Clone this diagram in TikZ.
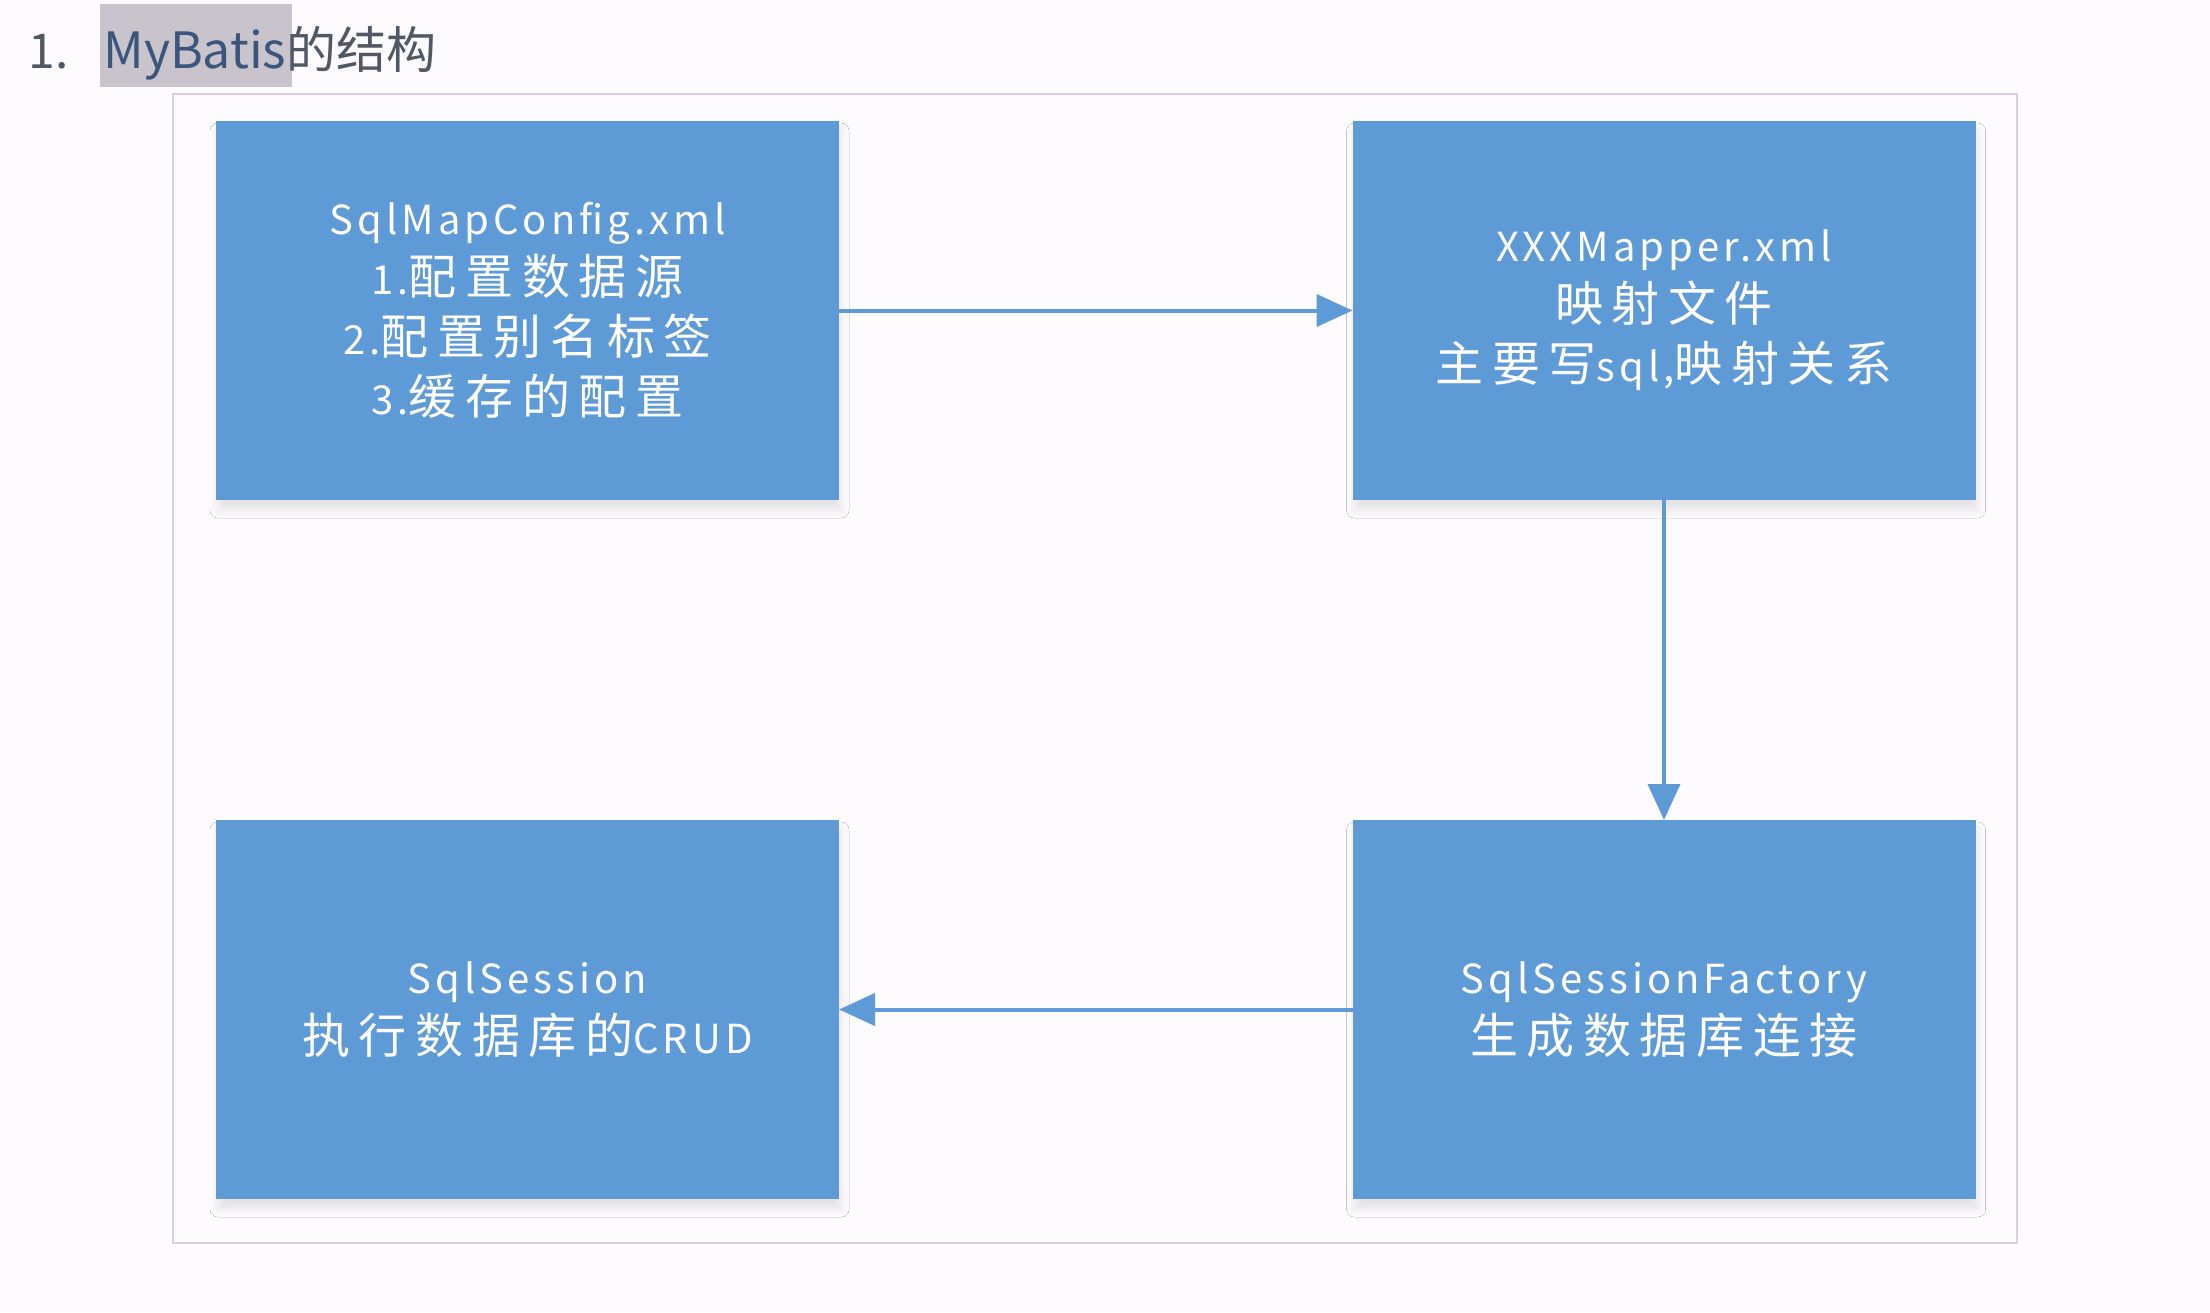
\documentclass[tikz,border=0pt]{standalone}
\usepackage{fontspec}
\setmainfont{Noto Sans CJK SC}
\newfontfamily\boxfont[LetterSpace=10]{Noto Sans CJK SC}
\newfontfamily\zhfont[LetterSpace=18]{Noto Sans CJK SC}
\newcommand\zh[1]{{\zhfont\fontsize{24}{30}\selectfont #1}}
\usetikzlibrary{arrows.meta,shadows.blur}
\definecolor{boxblue}{RGB}{94,154,214}
\definecolor{framelilac}{RGB}{221,203,226}
\definecolor{markgrey}{RGB}{201,195,204}
\definecolor{titleblue}{RGB}{58,86,124}
\definecolor{titlegrey}{RGB}{80,88,100}
\definecolor{paper}{RGB}{253,251,253}

\begin{document}
\begin{tikzpicture}[x=0.5pt,y=-0.5pt,
  block/.style={fill=boxblue,text=white,minimum width=311.5pt,minimum height=189.5pt,
    inner sep=0pt,outer sep=0pt,align=center,font=\boxfont\fontsize{20}{30}\selectfont,
    blur shadow={shadow xshift=1pt,shadow yshift=-5pt,shadow blur radius=4pt,shadow blur steps=8,shadow opacity=10}},
  link/.style={draw=boxblue,line width=2pt,-{Triangle[length=18pt,width=16pt]}}]
\useasboundingbox (0,0) rectangle (2210,1312);
\fill[paper] (0,0) rectangle (2210,1312);
% title line
\fill[markgrey] (100,4) rectangle (292,87);
\node[anchor=base west,inner sep=0pt,text=titlegrey,font=\fontsize{24}{28}\selectfont] (num) at (28,68) {1.};
\node[anchor=base west,inner sep=0pt,font=\fontsize{25}{28}\selectfont] (title) at (103,68)
  {\textcolor{titleblue}{MyBatis}\textcolor{titlegrey}{的结构}};
% frame
\draw[framelilac,line width=0.8pt] (173,94) rectangle (2017,1243);
% boxes
\node[block] (cfg) at (527.5,310.5) {SqlMapConfig.xml\\1.\zh{配置数据源}\\2.\zh{配置别名标签}\\3.\zh{缓存的配置}};
\node[block] (mapper) at (1664,310.5) {XXXMapper.xml\\\zh{映射文件}\\\zh{主要写}sql,\zh{映射关系}};
\node[block] (factory) at (1664,1009.5) {SqlSessionFactory\\\zh{生成数据库连接}};
\node[block] (session) at (527.5,1009.5) {SqlSession\\\zh{执行数据库的}CRUD};
% arrows
\draw[link] (cfg) -- (mapper);
\draw[link] (mapper) -- (factory);
\draw[link] (factory) -- (session);
\end{tikzpicture}
\end{document}
